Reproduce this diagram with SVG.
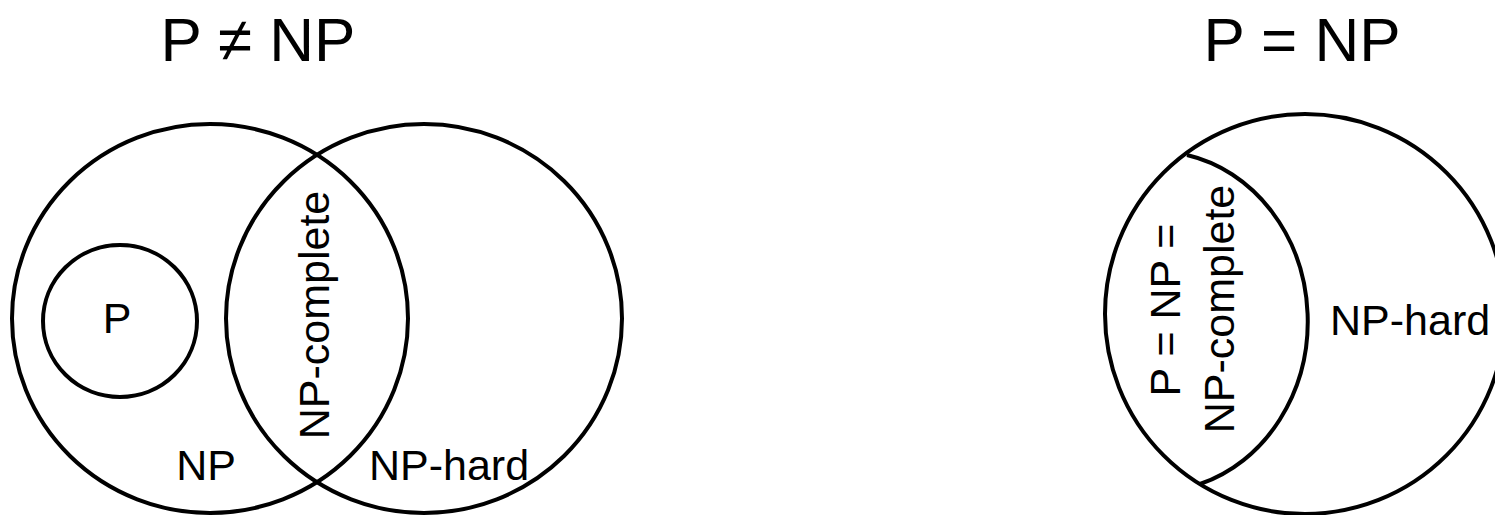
<svg xmlns="http://www.w3.org/2000/svg" width="1495" height="515" viewBox="0 0 1495 515">
<style>
.shape { fill: none; stroke: #000; stroke-width: 4; }
.label { font-family: "Liberation Sans", Arial, sans-serif; font-size: 43px; fill: #000; }
.title { font-family: "Liberation Sans", Arial, sans-serif; font-size: 62px; fill: #000; text-anchor: middle; }
.mid { text-anchor: middle; }
</style>
<rect width="1495" height="515" fill="#fff"/>
<text class="title" x="258" y="61">P ≠ NP</text>
<text class="title" x="1302" y="61">P = NP</text>
<g id="left-np">
  <ellipse class="shape" cx="210" cy="318.5" rx="198" ry="194.5"/>
  <text class="label mid" x="206" y="480">NP</text>
</g>
<g id="left-nphard">
  <ellipse class="shape" cx="424" cy="318.5" rx="198" ry="194.5"/>
  <text class="label mid" x="449" y="480">NP-hard</text>
</g>
<g id="left-npcomplete">
  <text class="label mid" transform="translate(329 315) rotate(-90)">NP-complete</text>
</g>
<g id="left-p">
  <ellipse class="shape" cx="120" cy="321" rx="77" ry="76"/>
  <text class="label mid" x="117" y="333">P</text>
</g>
<g id="right-nphard">
  <circle class="shape" cx="1305" cy="314" r="200"/>
  <text class="label" x="1330" y="335">NP-hard</text>
</g>
<g id="right-pnp">
  <path class="shape" d="M 1187 155 A 152 170 0 0 1 1200 484"/>
  <text class="label mid" transform="translate(1180 310) rotate(-90)">P = NP =</text>
  <text class="label mid" transform="translate(1234 309) rotate(-90)">NP-complete</text>
</g>
<g id="connectors"></g>
</svg>
